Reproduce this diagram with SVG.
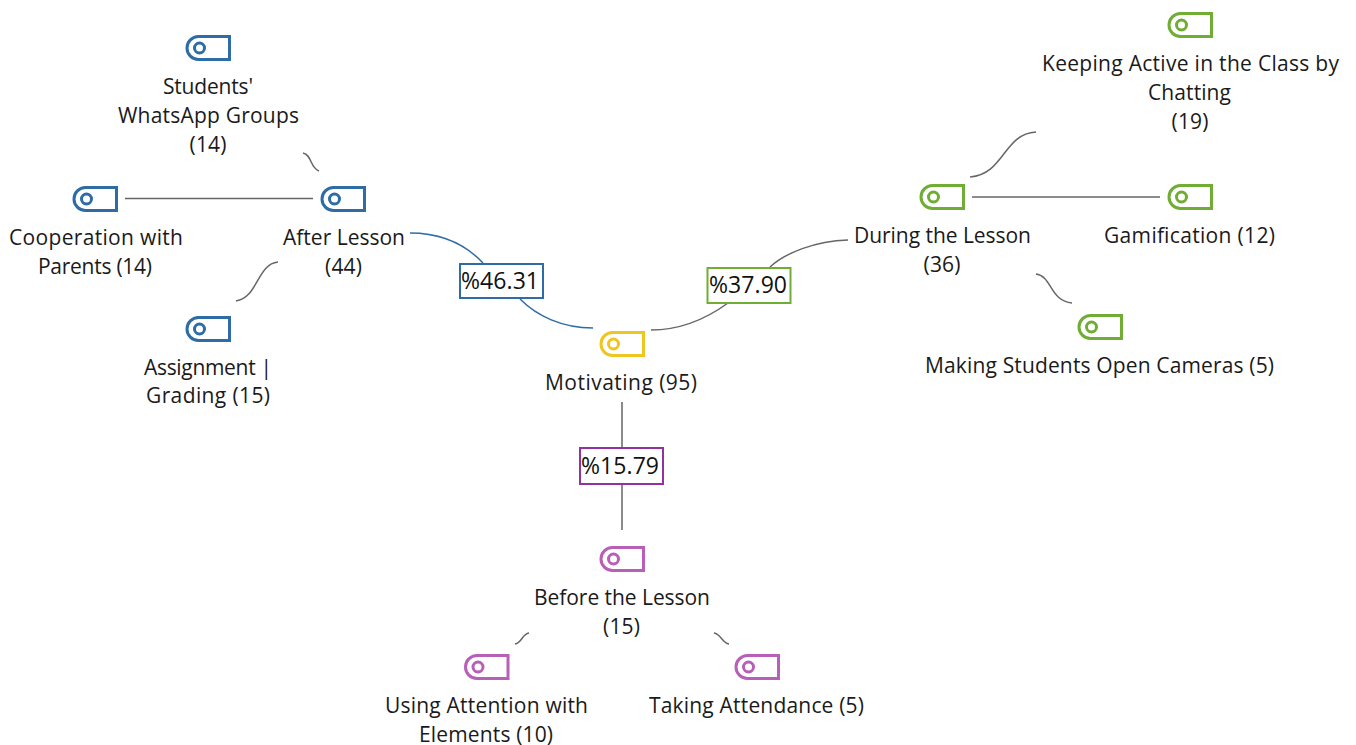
<svg xmlns="http://www.w3.org/2000/svg" width="1356" height="745" viewBox="0 0 1356 745">
<style>
text{font-family:"Open Sans","Noto Sans","Liberation Sans",sans-serif;font-size:21px;fill:#1a1a1a;text-anchor:middle}
.tag{fill:none;stroke-width:3}
.c{fill:none;stroke:#666;stroke-width:1.5}
.box{fill:#fff;stroke-width:2}
.pct{font-size:23px;fill:#111}
.blue{stroke:#2e6ca6}.green{stroke:#70ad34}.yellow{stroke:#efc61f}.purple{stroke:#b85fb8}.dp{stroke:#93329e}
</style>
<defs>
<g id="t"><path d="M43.500 1.500H12.500A11.500 11.500 0 0 0 12.500 24.500H43.500Z"/><circle cx="13.500" cy="13" r="5"/></g>
</defs>
<rect width="1356" height="745" fill="#fff"/>
<g id="connectors">
<path class="c blue" d="M410 233C445 233 468 247 483 263M520 299C537 316 562 328 593 328"/>
<path class="c" d="M651 330C680 330 706 319 728 303M770 267C785 253 815 241 848 240"/>
<path class="c" d="M622 402V448M622 484V530"/>
<path class="c" d="M303 153C312 155 310 168 319 171"/>
<path class="c" d="M125 198.500H313"/>
<path class="c" d="M278 262C257 264 258 298 236 301"/>
<path class="c" d="M1036 132C1003 134 1005 174 970 177"/>
<path class="c" d="M972 197H1160"/>
<path class="c" d="M1036 274C1052 276 1050 301 1072 303"/>
<path class="c" d="M529 633C522 634 522 643 515 644"/>
<path class="c" d="M714 633C721 634 722 643 729 644"/>
</g>
<g id="n-motivating"><use href="#t" class="tag yellow" x="600" y="331"/><text x="621" y="390" textLength="152">Motivating (95)</text></g>
<g id="n-after"><use href="#t" class="tag blue" x="321" y="186"/><text x="344" y="245" textLength="122">After Lesson</text><text x="343.500" y="274" textLength="37">(44)</text></g>
<g id="n-students"><use href="#t" class="tag blue" x="186" y="35"/><text x="208" y="94" textLength="90">Students'</text><text x="208.500" y="123" textLength="181">WhatsApp Groups</text><text x="208" y="152" textLength="37">(14)</text></g>
<g id="n-cooperation"><use href="#t" class="tag blue" x="73" y="186"/><text x="96" y="245" textLength="174">Cooperation with</text><text x="95" y="274" textLength="114">Parents (14)</text></g>
<g id="n-assignment"><use href="#t" class="tag blue" x="186" y="316"/><text x="208" y="374.500" textLength="128">Assignment |</text><text x="208" y="403" textLength="124">Grading (15)</text></g>
<g id="n-during"><use href="#t" class="tag green" x="920" y="184"/><text x="942.500" y="243" textLength="177">During the Lesson</text><text x="942" y="272" textLength="37">(36)</text></g>
<g id="n-keeping"><use href="#t" class="tag green" x="1168" y="12"/><text x="1190.500" y="71" textLength="297">Keeping Active in the Class by</text><text x="1189.500" y="100" textLength="83">Chatting</text><text x="1190" y="129" textLength="37">(19)</text></g>
<g id="n-gamification"><use href="#t" class="tag green" x="1168" y="184"/><text x="1189.500" y="243" textLength="171">Gamification (12)</text></g>
<g id="n-making"><use href="#t" class="tag green" x="1078" y="314"/><text x="1099.500" y="373" textLength="349">Making Students Open Cameras (5)</text></g>
<g id="n-before"><use href="#t" class="tag purple" x="600" y="546"/><text x="622" y="605" textLength="176">Before the Lesson</text><text x="621.500" y="634" textLength="37">(15)</text></g>
<g id="n-using"><use href="#t" class="tag purple" x="464.500" y="654"/><text x="486.500" y="713" textLength="203">Using Attention with</text><text x="486" y="741.500" textLength="134">Elements (10)</text></g>
<g id="n-taking"><use href="#t" class="tag purple" x="735" y="654"/><text x="756.500" y="713" textLength="215">Taking Attendance (5)</text></g>
<g id="l-46"><rect class="box blue" x="460" y="264" width="83" height="34"/><text class="pct" x="500" y="289" textLength="78">%46.31</text></g>
<g id="l-37"><rect class="box green" x="707.500" y="268" width="83" height="35"/><text class="pct" x="748" y="293" textLength="78">%37.90</text></g>
<g id="l-15"><rect class="box dp" x="580" y="448" width="83" height="36"/><text class="pct" x="620" y="474" textLength="78">%15.79</text></g>
</svg>
